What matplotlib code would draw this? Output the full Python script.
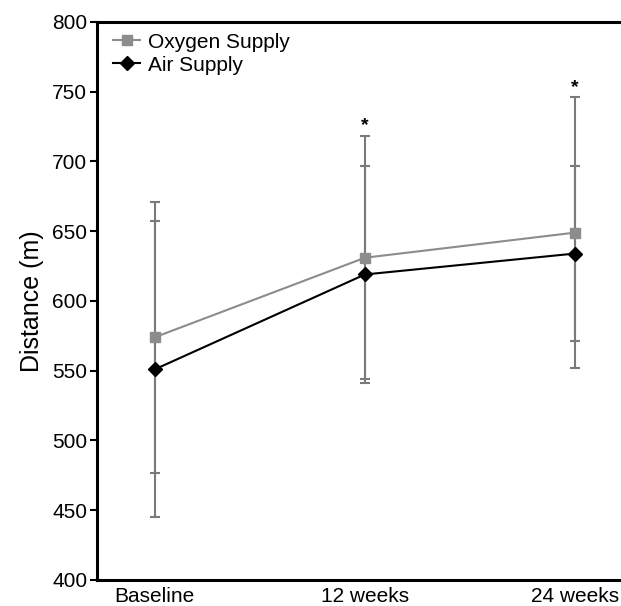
import numpy as np
import matplotlib.pyplot as plt

plt.rcParams['font.family'] = ['Liberation Sans', 'DejaVu Sans']

# six-minute walk distance, mean and SD
labels = ['Baseline', '12 weeks', '24 weeks']
oxygen_mean = [574, 631, 649]
oxygen_sd = [97, 87, 97]
air_mean = [551, 619, 634]
air_sd = [106, 78, 63]
star_pos = [1, 2]
star_y = [726, 753]

x = np.arange(len(labels))

fig = plt.figure(figsize=(6.21, 6.06), dpi=100)
ax = fig.add_axes([0.156, 0.043, 0.844, 0.9207])

ax.errorbar(x, oxygen_mean, yerr=oxygen_sd, fmt='none', ecolor='#7a7a7a',
            elinewidth=1.5, capsize=3.5, capthick=1.5, zorder=1)
ax.errorbar(x, air_mean, yerr=air_sd, fmt='none', ecolor='#7a7a7a',
            elinewidth=1.5, capsize=3.5, capthick=1.5, zorder=1)
ax.plot(x, oxygen_mean, color='#8c8c8c', marker='s', markersize=7,
        linewidth=1.5, label='Oxygen Supply', zorder=3)
ax.plot(x, air_mean, color='black', marker='D', markersize=7.5,
        linewidth=1.5, label='Air Supply', zorder=4)

for sx, sy in zip(star_pos, star_y):
    ax.text(sx, sy, '*', ha='center', va='center', fontsize=14,
            fontweight='bold')

ax.set_xlim(-0.276, 2.219)
ax.set_ylim(400, 800)
ax.set_yticks(np.arange(400, 801, 50))
ax.set_xticks(x)
ax.set_xticklabels(labels)
ax.tick_params(axis='x', length=0, labelsize=15, pad=5)
ax.tick_params(axis='y', length=5, width=1.5, labelsize=15, pad=2)
ax.set_ylabel('Distance (m)', fontsize=18, labelpad=6)

ax.spines['right'].set_visible(False)
for s in ['left', 'top', 'bottom']:
    ax.spines[s].set_linewidth(2.2)

ax.legend(loc='upper left', frameon=False, fontsize=15, handlelength=1.3,
          handletextpad=0.4, labelspacing=0.2, borderaxespad=0.0,
          bbox_to_anchor=(0.015, 0.996))

fig.savefig('out.png', dpi=100)
